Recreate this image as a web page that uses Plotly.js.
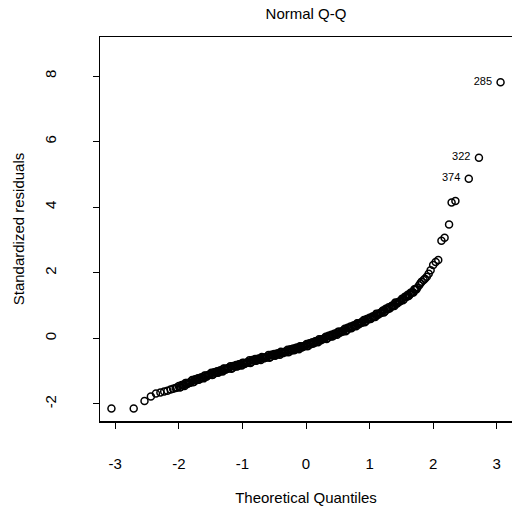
<!DOCTYPE html>
<html>
<head>
<meta charset="utf-8">
<script src="https://cdn.plot.ly/plotly-3.0.1.min.js"></script>
<style>html,body{margin:0;padding:0;background:#fff;}#chart{width:512px;height:518px;}</style>
</head>
<body>
<div id="chart"></div>
<script>
// Theoretical quantiles (x) and standardized residuals (y)
const theoretical = [
  -3.06, -2.71, -2.54, -2.44, -2.36, -2.29, -2.23, -2.18, -2.13, -2.09, -2.05, -2.03,
  -2.00, -1.97, -1.94, -1.91, -1.88, -1.85, -1.82, -1.79, -1.76, -1.73,
  -1.70, -1.67, -1.64, -1.61, -1.58, -1.55, -1.52, -1.49, -1.46, -1.43,
  -1.40, -1.37, -1.34, -1.31, -1.28, -1.25, -1.22, -1.19, -1.16, -1.13,
  -1.10, -1.07, -1.04, -1.01, -0.98, -0.95, -0.92, -0.89, -0.86, -0.83,
  -0.80, -0.77, -0.74, -0.71, -0.68, -0.65, -0.62, -0.59, -0.56, -0.53,
  -0.50, -0.47, -0.44, -0.41, -0.38, -0.35, -0.32, -0.29, -0.26, -0.23,
  -0.20, -0.17, -0.14, -0.11, -0.08, -0.05, -0.02, 0.01, 0.04, 0.07,
  0.10, 0.13, 0.16, 0.19, 0.22, 0.25, 0.28, 0.31, 0.34, 0.37,
  0.40, 0.43, 0.46, 0.49, 0.52, 0.55, 0.58, 0.61, 0.64, 0.67,
  0.70, 0.73, 0.76, 0.79, 0.82, 0.85, 0.88, 0.91, 0.94, 0.97,
  1.00, 1.03, 1.06, 1.09, 1.12, 1.15, 1.18, 1.21, 1.24, 1.27,
  1.30, 1.33, 1.36, 1.39, 1.42, 1.45, 1.48, 1.51, 1.54, 1.57,
  1.60, 1.63, 1.66, 1.69, 1.72, 1.75,
  1.78, 1.80, 1.82, 1.85, 1.87, 1.90, 1.93, 1.96, 2.00, 2.04,
  2.08, 2.13, 2.18, 2.25, 2.29, 2.35, 2.56, 2.72, 3.06,
  -1.985, -1.955, -1.925, -1.895, -1.865, -1.835, -1.805, -1.775, -1.745, -1.715,
  -1.685, -1.655, -1.625, -1.595, -1.565, -1.535, -1.505, -1.475, -1.445, -1.415,
  -1.385, -1.355, -1.325, -1.295, -1.265, -1.235, -1.205, -1.175, -1.145, -1.115,
  -1.085, -1.055, -1.025, -0.995, -0.965, -0.935, -0.905, -0.875, -0.845, -0.815,
  -0.785, -0.755, -0.725, -0.695, -0.665, -0.635, -0.605, -0.575, -0.545, -0.515,
  -0.485, -0.455, -0.425, -0.395, -0.365, -0.335, -0.305, -0.275, -0.245, -0.215,
  -0.185, -0.155, -0.125, -0.095, -0.065, -0.035, -0.005, 0.025, 0.055, 0.085,
  0.115, 0.145, 0.175, 0.205, 0.235, 0.265, 0.295, 0.325, 0.355, 0.385,
  0.415, 0.445, 0.475, 0.505, 0.535, 0.565, 0.595, 0.625, 0.655, 0.685,
  0.715, 0.745, 0.775, 0.805, 0.835, 0.865, 0.895, 0.925, 0.955, 0.985,
  1.015, 1.045, 1.075, 1.105, 1.135, 1.165, 1.195, 1.225, 1.255, 1.285,
  1.315, 1.345, 1.375, 1.405, 1.435, 1.465, 1.495, 1.525, 1.555, 1.585,
  1.615, 1.645, 1.675, 1.705, 1.735
];
const residuals = [
  -2.14, -2.14, -1.91, -1.77, -1.68, -1.65, -1.62, -1.60, -1.56, -1.54, -1.51, -1.50,
  -1.45, -1.48, -1.42, -1.45, -1.36, -1.36, -1.35, -1.27, -1.32, -1.26,
  -1.22, -1.24, -1.19, -1.22, -1.14, -1.13, -1.12, -1.05, -1.10, -1.04,
  -1.00, -1.03, -0.98, -1.01, -0.93, -0.93, -0.92, -0.85, -0.91, -0.85,
  -0.81, -0.84, -0.79, -0.83, -0.75, -0.75, -0.74, -0.67, -0.73, -0.67,
  -0.63, -0.67, -0.62, -0.66, -0.58, -0.59, -0.58, -0.51, -0.57, -0.51,
  -0.48, -0.51, -0.46, -0.50, -0.42, -0.42, -0.42, -0.35, -0.40, -0.35,
  -0.31, -0.34, -0.29, -0.33, -0.25, -0.25, -0.24, -0.17, -0.22, -0.16,
  -0.12, -0.14, -0.09, -0.12, -0.04, -0.03, -0.02, 0.05, 0.01, 0.07,
  0.11, 0.08, 0.14, 0.11, 0.20, 0.20, 0.21, 0.29, 0.25, 0.31,
  0.36, 0.34, 0.39, 0.37, 0.46, 0.47, 0.48, 0.56, 0.52, 0.58,
  0.63, 0.61, 0.67, 0.65, 0.74, 0.75, 0.77, 0.85, 0.82, 0.89,
  0.95, 0.94, 1.00, 0.99, 1.08, 1.10, 1.13, 1.21, 1.19, 1.27,
  1.33, 1.33, 1.40, 1.40, 1.50, 1.54,
  1.62, 1.68, 1.73, 1.78, 1.82, 1.88, 1.97, 2.08, 2.24, 2.33,
  2.39, 2.98, 3.07, 3.47, 4.14, 4.19, 4.87, 5.51, 7.81,
  -1.50, -1.42, -1.43, -1.36, -1.39, -1.35, -1.31, -1.34, -1.25, -1.27,
  -1.26, -1.19, -1.20, -1.13, -1.17, -1.12, -1.09, -1.12, -1.03, -1.05,
  -1.05, -0.98, -0.99, -0.92, -0.96, -0.92, -0.89, -0.93, -0.84, -0.86,
  -0.86, -0.79, -0.81, -0.74, -0.78, -0.74, -0.71, -0.75, -0.66, -0.68,
  -0.68, -0.62, -0.63, -0.57, -0.61, -0.58, -0.55, -0.59, -0.50, -0.52,
  -0.53, -0.46, -0.47, -0.41, -0.45, -0.41, -0.39, -0.42, -0.33, -0.36,
  -0.36, -0.29, -0.31, -0.24, -0.28, -0.24, -0.21, -0.24, -0.15, -0.17,
  -0.16, -0.09, -0.10, -0.03, -0.06, -0.02, 0.01, -0.02, 0.08, 0.06,
  0.06, 0.14, 0.13, 0.20, 0.17, 0.21, 0.25, 0.22, 0.32, 0.31,
  0.31, 0.39, 0.39, 0.46, 0.43, 0.48, 0.52, 0.49, 0.59, 0.58,
  0.59, 0.67, 0.67, 0.75, 0.72, 0.77, 0.81, 0.79, 0.90, 0.89,
  0.91, 0.99, 1.00, 1.09, 1.06, 1.12, 1.16, 1.16, 1.27, 1.27,
  1.29, 1.39, 1.40, 1.50, 1.49
];
// Observation labels for the three most extreme residuals
const labelIds = ['374', '322', '285'];
const labelX = [2.56, 2.72, 3.06];
const labelY = [4.87, 5.51, 7.81];

const xTicks = [-3, -2, -1, 0, 1, 2, 3];
const xTickText = ['-3', '-2', '-1', '0', '1', '2', '3'];
const yTicks = [-2, 0, 2, 4, 6, 8];
const yTickText = ['-2', '0', '2', '4', '6', '8'];

const font = 'Liberation Sans, Arial, sans-serif';

const traces = [
  {
    type: 'scatter', mode: 'markers', x: theoretical, y: residuals,
    marker: {symbol: 'circle-open', size: 7, color: '#000', line: {width: 1.5, color: '#000'}},
    hoverinfo: 'skip', showlegend: false, cliponaxis: false
  },
  {
    type: 'scatter', mode: 'markers+text', x: labelX, y: labelY, text: labelIds,
    marker: {size: 12, opacity: 0},
    textposition: 'middle left', textfont: {family: font, size: 11, color: '#000'},
    hoverinfo: 'skip', showlegend: false, cliponaxis: false
  }
];

const axisCommon = {
  showgrid: false, zeroline: false, showline: true, mirror: true,
  linecolor: '#000', linewidth: 1.5, ticks: 'outside', ticklen: 6,
  tickcolor: '#000', tickwidth: 1, tickfont: {family: font, size: 15, color: '#000'}
};

const layout = {
  width: 512, height: 518,
  margin: {l: 100, r: 0, t: 37, b: 97},
  paper_bgcolor: '#fff', plot_bgcolor: '#fff',
  title: {text: 'Normal Q-Q', font: {family: font, size: 15, color: '#000'},
          x: 0.5, xref: 'paper', y: 1, yref: 'container', yanchor: 'top', pad: {t: 8}},
  xaxis: Object.assign({}, axisCommon, {
    range: [-3.24, 3.24], tickvals: xTicks, ticktext: xTickText,
    ticklabelstandoff: 22,
    title: {text: 'Theoretical Quantiles', font: {family: font, size: 15, color: '#000'}, standoff: 22}
  }),
  yaxis: Object.assign({}, axisCommon, {
    range: [-2.52, 9.19], tickvals: yTicks, ticktext: yTickText, tickangle: -90,
    ticklabelstandoff: 31,
    title: {text: 'Standardized residuals', font: {family: font, size: 15, color: '#000'}, standoff: 13}
  })
};

Plotly.newPlot('chart', traces, layout, {displayModeBar: false, staticPlot: true});
</script>
</body>
</html>
